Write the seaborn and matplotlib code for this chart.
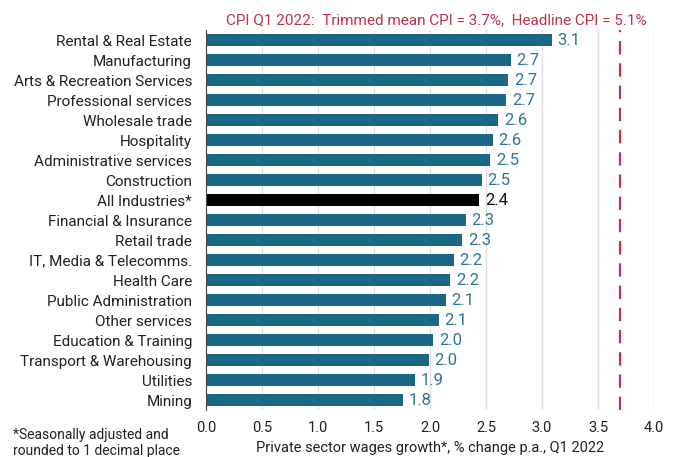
import matplotlib
matplotlib.use("Agg")
import matplotlib.pyplot as plt
import seaborn as sns
import numpy as np

categories = ["Rental & Real Estate", "Manufacturing", "Arts & Recreation Services",
              "Professional services", "Wholesale trade", "Hospitality",
              "Administrative services", "Construction", "All Industries*",
              "Financial & Insurance", "Retail trade", "IT, Media & Telecomms.",
              "Health Care", "Public Administration", "Other services",
              "Education & Training", "Transport & Warehousing", "Utilities", "Mining"]
values = [3.09, 2.72, 2.70, 2.68, 2.61, 2.56, 2.54, 2.46, 2.44, 2.32, 2.29, 2.21,
          2.18, 2.14, 2.08, 2.03, 1.99, 1.87, 1.76]
labels = ["3.1", "2.7", "2.7", "2.7", "2.6", "2.6", "2.5", "2.5", "2.4", "2.3", "2.3",
          "2.2", "2.2", "2.1", "2.1", "2.0", "2.0", "1.9", "1.8"]
cpi_trimmed = 3.7
x_ticks = [0.0, 0.5, 1.0, 1.5, 2.0, 2.5, 3.0, 3.5, 4.0]

sns.set_theme(style="white")
plt.rcParams['font.family'] = ['Roboto', 'DejaVu Sans']

BAR = "#1c6686"
LAB = "#2f7599"
RED = "#c0314a"
colors = ["#000000" if c.startswith("All Industries") else BAR for c in categories]

fig = plt.figure(figsize=(6.83, 4.57), dpi=100)
ax = fig.add_axes([206/683, 1-410/457, (654-206)/683, 380/457])

sns.barplot(x=values, y=categories, hue=categories, palette=colors, legend=False,
            orient="h", width=0.6, ax=ax, saturation=1, edgecolor="none")

ax.set_xlim(0, 4.0)
ax.set_ylim(len(categories)-0.5, -0.5)
ax.set_xticks(x_ticks)
ax.set_xticklabels([f"{t:.1f}" for t in x_ticks], fontsize=10.5, color="#222222")
ax.tick_params(axis="x", length=0, pad=8)
ax.grid(axis="x", color="#dedede", lw=1)
ax.set_axisbelow(True)
for s in ["top", "right", "bottom"]:
    ax.spines[s].set_visible(False)
ax.spines["left"].set_color("#444444")
ax.spines["left"].set_linewidth(0.8)

ax.set_yticks(range(len(categories)))
ax.set_yticklabels(categories, fontsize=11, color="#222222")
ax.tick_params(axis="y", which="major", length=0, pad=10)
ax.set_yticks(np.arange(-0.5, len(categories), 1), minor=True)
ax.tick_params(axis="y", which="minor", length=4, width=0.8, color="#444444")
ax.set_ylabel("")

for i, (v, lab) in enumerate(zip(values, labels)):
    col = "#111111" if categories[i].startswith("All Industries") else LAB
    ax.text(v + 0.05, i, lab, va="center", ha="left", fontsize=12, color=col)

ax.axvline(cpi_trimmed, color=RED, lw=1.6, dashes=(6, 4))

fig.text(436/683, 1-20/457, "CPI Q1 2022:  Trimmed mean CPI = 3.7%,  Headline CPI = 5.1%",
         ha="center", va="center", fontsize=11, color=RED)
ax.set_xlabel("Private sector wages growth*, % change p.a., Q1 2022",
              fontsize=10.5, color="#222222", labelpad=4)
fig.text(13/683, 1-435/457, "*Seasonally adjusted and",
         ha="left", va="center", fontsize=10, color="#222222")
fig.text(13/683, 1-451/457, "rounded to 1 decimal place",
         ha="left", va="center", fontsize=10, color="#222222")

fig.savefig("out.png", dpi=100, facecolor="white")
